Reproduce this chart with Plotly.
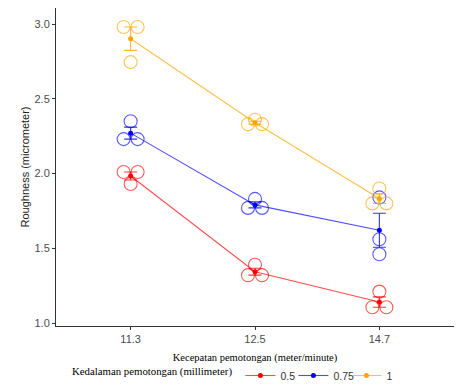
import plotly.graph_objects as go
from collections import Counter

# ---- data ----
speeds = ["11.3", "12.5", "14.7"]
depths = ["0.5", "0.75", "1"]
colors = {"0.5": "#FF0000", "0.75": "#0000FF", "1": "#FFA500"}

# observations per depth, per speed (3 replicates each)
rough_05 = [[2.01, 2.01, 1.93], [1.39, 1.32, 1.32], [1.21, 1.105, 1.105]]
rough_075 = [[2.35, 2.23, 2.23], [1.83, 1.77, 1.77], [1.84, 1.56, 1.46]]
rough_1 = [[2.98, 2.98, 2.745], [2.36, 2.33, 2.33], [1.90, 1.80, 1.80]]
obs = {"0.5": rough_05, "0.75": rough_075, "1": rough_1}

fig = go.Figure()
px_per_unit = 124.4
dx = 7.0 / px_per_unit

def rgba(hexc, a):
    h = hexc.lstrip("#")
    r, g, b = int(h[0:2], 16), int(h[2:4], 16), int(h[4:6], 16)
    return f"rgba({r},{g},{b},{a})"

for d in depths:
    c = colors[d]
    xs, ys = [], []
    means, ses = [], []
    for i, vals in enumerate(obs[d]):
        cnt = Counter(vals)
        seen = Counter()
        for v in vals:
            n = cnt[v]
            k = seen[v]
            seen[v] += 1
            off = (k - (n - 1) / 2.0) * 2 * dx
            xs.append(i + off)
            ys.append(v)
        m = sum(vals) / len(vals)
        sd = (sum((v - m) ** 2 for v in vals) / (len(vals) - 1)) ** 0.5
        means.append(m)
        ses.append(sd / len(vals) ** 0.5)
    fig.add_trace(go.Scatter(
        x=xs, y=ys, mode="markers", showlegend=False,
        marker=dict(symbol="circle-open", size=13, color=rgba(c, 0.65),
                    line=dict(width=1.1, color=rgba(c, 0.65))),
        hoverinfo="skip"))
    fig.add_trace(go.Scatter(
        x=list(range(len(speeds))), y=means, mode="lines+markers", name=d,
        line=dict(color=rgba(c, 0.7), width=1.1),
        marker=dict(color=c, size=5),
        error_y=dict(type="data", array=ses, visible=True, color=rgba(c, 0.8),
                     thickness=1.1, width=6.5)))

axis_common = dict(showline=True, linecolor="#333333", linewidth=1,
                   ticks="outside", ticklen=3, tickcolor="#333333",
                   showgrid=False, zeroline=False,
                   tickfont=dict(family="Liberation Sans, Arial", size=11, color="#4D4D4D"))

# page body has an 8px margin, so the figure is sized/offset to compensate
fig.update_layout(
    width=466, height=382,
    margin=dict(l=48, r=20, t=0, b=63),
    paper_bgcolor="white", plot_bgcolor="white",
    xaxis=dict(axis_common, tickmode="array", tickvals=list(range(len(speeds))),
               ticktext=speeds, range=[-0.6, 2.6],
               title=dict(text="Kecepatan pemotongan (meter/minute)", standoff=9,
                          font=dict(family="Liberation Serif, Times New Roman", size=10.5, color="black"))),
    yaxis=dict(axis_common, range=[0.98, 3.107], dtick=0.5, tick0=1.0, tickformat=".1f",
               title=dict(text="Roughness (micrometer)", standoff=2,
                          font=dict(family="Liberation Sans, Arial", size=11, color="#222222"))),
    legend=dict(orientation="h", x=0.035, xanchor="left", y=-0.157, yanchor="middle",
                font=dict(family="Liberation Sans, Arial", size=10.5, color="#333333"),
                title=dict(text="Kedalaman pemotongan (millimeter)",
                           font=dict(family="Liberation Serif, Times New Roman", size=10.8, color="black")),
                entrywidth=8, entrywidthmode="pixels",
                tracegroupgap=0),
    showlegend=True,
)

fig.write_html("out.html")
